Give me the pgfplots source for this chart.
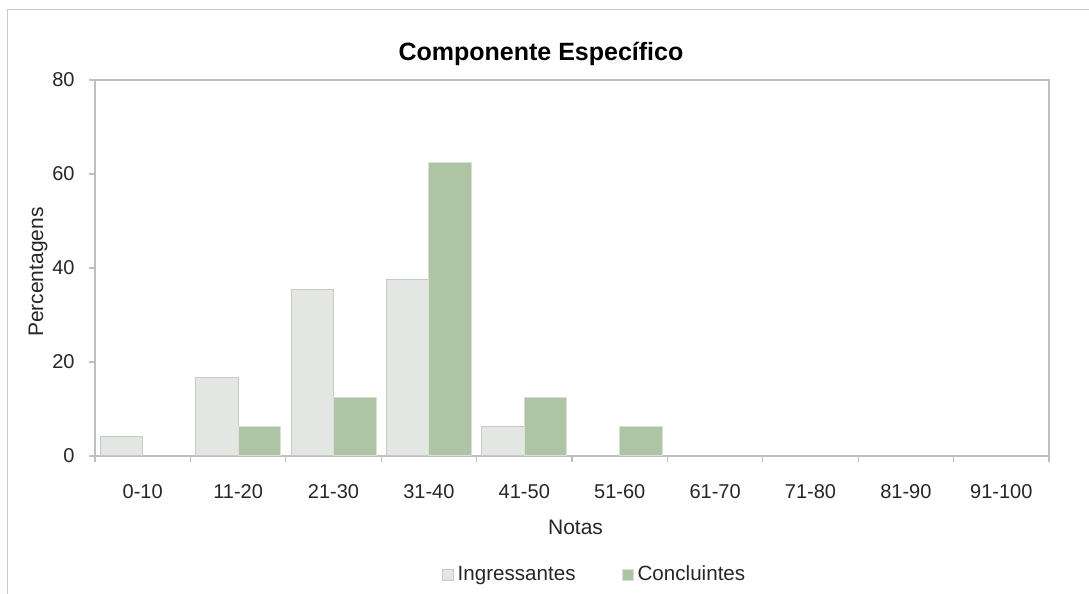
\documentclass[border=0pt]{standalone}
\usepackage{fontspec}
\setmainfont{Liberation Sans}
\usepackage{pgfplots}
\pgfplotsset{compat=1.18}
\definecolor{ingfill}{HTML}{E3E6E3}
\definecolor{ingdraw}{HTML}{C3CCC3}
\definecolor{confill}{HTML}{ADC5A5}
\definecolor{condraw}{HTML}{D8DFD5}
\definecolor{axgray}{HTML}{BFBFBF}
\definecolor{framegray}{HTML}{C8C8C8}
\begin{document}
\begin{tikzpicture}
\path[use as bounding box] (0,0) rectangle (544.5pt,297pt);
\draw[framegray, line width=0.5pt] (3.5pt,0) -- (3.5pt,292pt) -- (544.5pt,292pt);
\begin{axis}[
  at={(47.5pt,69pt)}, anchor=south west,
  scale only axis, width=477pt, height=188pt,
  ybar=0pt, bar width=21.25pt,
  xmin=-0.5, xmax=9.5, ymin=0, ymax=80,
  xtick={0,...,9},
  xticklabels={0-10,11-20,21-30,31-40,41-50,51-60,61-70,71-80,81-90,91-100},
  minor xtick={-0.5,0.5,...,9.5},
  ytick={0,20,40,60,80},
  xtick pos=bottom, ytick pos=left,
  tick align=outside,
  major tick length=3pt, minor tick length=3pt,
  major x tick style={draw=none},
  tick style={axgray, line width=0.6pt},
  axis line style={axgray, line width=0.7pt},
  /pgf/number format/assume math mode=true,
  tick label style={font=\fontsize{10}{12}\selectfont, text=black!85},
  xticklabel style={anchor=base, yshift=-18.5pt},
  yticklabel style={anchor=east, inner sep=0pt, xshift=-7pt},
  label style={font=\fontsize{10.5}{12.6}\selectfont, text=black!85},
  xlabel={Notas},
  xlabel style={at={(axis description cs:0.5037,0)}, anchor=base, yshift=-39.5pt},
  ylabel={Percentagens},
  ylabel style={at={(axis description cs:-0.0545,0.489)}, anchor=base},
  title={\textbf{Componente Específico}},
  title style={at={(axis description cs:0.4675,1.0213)}, anchor=base, font=\fontsize{12.5}{15}\selectfont},
  legend style={at={(axis description cs:0.5246,-0.3165)}, anchor=center, draw=none, fill=none,
    font=\fontsize{10.3}{12}\selectfont, text=black!85, inner sep=0pt,
    /tikz/every even column/.append style={column sep=21pt},
    nodes={inner xsep=2pt}},
  legend columns=2,
  sqlegend/.style={legend image code/.code={\draw[##1,/tikz/.cd] (0pt,-2.75pt) rectangle (5.5pt,2.75pt);}},
]
\addplot[fill=ingfill, draw=ingdraw, line width=0.5pt, sqlegend] coordinates {(0,4.17) (1,16.67) (2,35.42) (3,37.5) (4,6.25)};
\addlegendentry{Ingressantes}
\addplot[fill=confill, draw=condraw, line width=0.5pt, sqlegend] coordinates {(1,6.25) (2,12.5) (3,62.5) (4,12.5) (5,6.25)};
\addlegendentry{Concluintes}
\end{axis}
\end{tikzpicture}
\end{document}
